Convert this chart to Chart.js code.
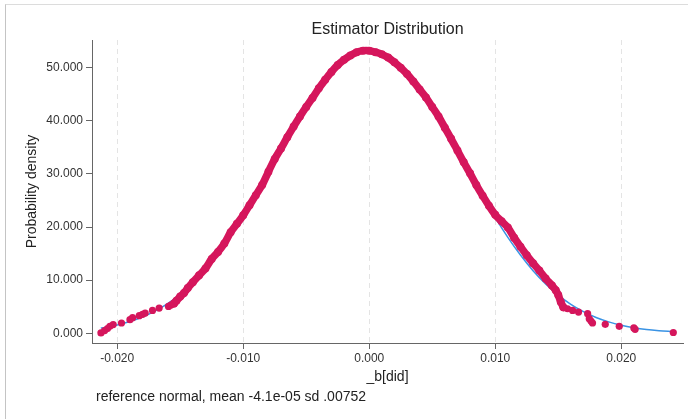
<!DOCTYPE html>
<html>
<head>
<meta charset="utf-8">
<script src="https://cdn.jsdelivr.net/npm/chart.js@4/dist/chart.umd.min.js"></script>
<style>
html, body { margin: 0; padding: 0; background: #ffffff; }
#wrap { position: relative; width: 688px; height: 419px; overflow: hidden; }
#frame { position: absolute; left: 5px; top: 4px; width: 683px; height: 415px; box-sizing: border-box;
         border-top: 1px solid #dcdcdc; border-left: 1px solid #c4c4c4; }
#c { position: absolute; left: 0; top: 0; }
</style>
</head>
<body>
<div id="wrap"><div id="frame"></div><canvas id="c" width="688" height="419"></canvas></div>
<script>
// ---- tick labels ----
const xTicks = [-0.02, -0.01, 0, 0.01, 0.02];
const yTicks = [0, 10, 20, 30, 40, 50];

// ---- reference normal curve (blue line) ----
const refX = [-0.0213, -0.0210, -0.0200, -0.0190, -0.0180, -0.0170, -0.0160, -0.0150, -0.0140, -0.0130,
              -0.0120, -0.0110, -0.0100, -0.0090, -0.0080, -0.0070, -0.0060, -0.0050, -0.0040, -0.0030,
              -0.0020, -0.0010, 0.0000, 0.0010, 0.0020, 0.0030, 0.0040, 0.0050, 0.0060, 0.0070,
              0.0080, 0.0090, 0.0100, 0.0110, 0.0120, 0.0130, 0.0140, 0.0150, 0.0160, 0.0170,
              0.0180, 0.0190, 0.0200, 0.0210, 0.0220, 0.0230, 0.0241];
const refY = [0.98, 1.09, 1.57, 2.21, 3.07, 4.17, 5.58, 7.34, 9.47, 12.02,
              14.99, 18.35, 22.08, 26.11, 30.30, 34.58, 38.76, 42.70, 46.19, 49.10,
              51.28, 52.62, 53.05, 52.54, 51.13, 48.88, 45.91, 42.38, 38.42, 34.22,
              29.95, 25.75, 21.75, 18.05, 14.72, 11.79, 9.28, 7.18, 5.45, 4.07,
              2.98, 2.15, 1.52, 1.06, 0.72, 0.49, 0.31];

// ---- estimated density: dense central band ----
const bandX = [-0.0155, -0.0153, -0.0150, -0.0147, -0.0144, -0.0140, -0.0135, -0.0130, -0.0125, -0.0120,
               -0.0115, -0.0110, -0.0105, -0.0100, -0.0095, -0.0090, -0.0085, -0.0080, -0.0075, -0.0070,
               -0.0065, -0.0060, -0.0055, -0.0050, -0.0045, -0.0040, -0.0035, -0.0030, -0.0025, -0.0020,
               -0.0015, -0.0010, -0.0005, 0.0000, 0.0005, 0.0010, 0.0015, 0.0020, 0.0025, 0.0030,
               0.0035, 0.0040, 0.0045, 0.0050, 0.0055, 0.0060, 0.0065, 0.0070, 0.0075, 0.0080,
               0.0085, 0.0090, 0.0095, 0.0100, 0.0105, 0.0110, 0.0115, 0.0120, 0.0125, 0.0130,
               0.0135, 0.0140, 0.0145, 0.0148, 0.0150, 0.0152, 0.0154];
const bandY = [5.6, 6.1, 6.9, 7.6, 8.5, 9.6, 10.9, 12.2, 14.0, 15.3,
               16.9, 19.0, 20.6, 22.2, 24.1, 26.0, 27.9, 30.4, 32.8, 34.8,
               36.9, 38.9, 40.8, 42.6, 44.3, 46.1, 47.7, 49.2, 50.5, 51.5,
               52.3, 52.9, 53.2, 53.2, 52.9, 52.5, 51.9, 51.0, 50.0, 48.8,
               47.4, 45.9, 44.4, 42.6, 40.8, 38.7, 36.6, 34.4, 32.2, 30.1,
               27.9, 25.9, 24.0, 22.3, 21.1, 19.9, 18.0, 16.3, 14.7, 13.2,
               11.8, 10.3, 9.0, 8.1, 7.2, 5.9, 4.9];

// ---- estimated density: sparse tail points ----
const leftTailX = [-0.02129, -0.02100, -0.02077, -0.02058, -0.02032, -0.01966, -0.01899, -0.01878, -0.01825,
                   -0.01799, -0.01778, -0.01720, -0.01667, -0.01593, -0.01574, -0.01548];
const leftTailY = [0.06, 0.5, 0.88, 1.31, 1.63, 1.93, 2.56, 2.93, 3.31,
                   3.56, 3.81, 4.31, 4.74, 5.06, 5.31, 5.56];
const rightTailX = [0.01545, 0.01574, 0.01614, 0.01661, 0.01733, 0.01746, 0.01760, 0.01772,
                    0.01873, 0.01984, 0.02100, 0.02110, 0.02413];
const rightTailY = [4.8, 4.62, 4.3, 4.0, 3.69, 2.75, 2.3, 1.93,
                    1.69, 1.31, 1.0, 0.75, 0.15];

const titleText = 'Estimator Distribution';
const xTitle = '_b[did]';
const yTitle = 'Probability density';
const noteText = 'reference normal, mean -4.1e-05 sd .00752';

const FONT = '"Liberation Sans", Arial, Helvetica, sans-serif';
const RED = '#d5165c';
const BLUE = '#3a93e4';

const toPts = (xs, ys) => xs.map((x, i) => ({ x: x, y: ys[i] }));

const notePlugin = {
  id: 'note',
  afterDraw(chart) {
    const { ctx, chartArea } = chart;
    ctx.save();
    ctx.font = '14px ' + FONT;
    ctx.fillStyle = '#222';
    ctx.textAlign = 'left';
    ctx.textBaseline = 'middle';
    ctx.fillText(noteText, chartArea.left + 4, 397);
    ctx.restore();
  }
};

new Chart(document.getElementById('c'), {
  type: 'scatter',
  data: {
    datasets: [
      {
        label: 'band',
        data: toPts(bandX, bandY),
        showLine: true,
        borderColor: RED,
        backgroundColor: RED,
        borderWidth: 7.5,
        borderCapStyle: 'round',
        borderJoinStyle: 'round',
        tension: 0.3,
        pointRadius: 4,
        pointBorderWidth: 0,
        order: 0
      },
      {
        label: 'left tail',
        data: toPts(leftTailX, leftTailY),
        showLine: false,
        backgroundColor: RED,
        borderColor: RED,
        pointRadius: 3.6,
        pointBorderWidth: 0,
        order: 0
      },
      {
        label: 'right tail',
        data: toPts(rightTailX, rightTailY),
        showLine: false,
        backgroundColor: RED,
        borderColor: RED,
        pointRadius: 3.6,
        pointBorderWidth: 0,
        order: 0
      },
      {
        label: 'reference normal',
        data: toPts(refX, refY),
        showLine: true,
        borderColor: BLUE,
        backgroundColor: BLUE,
        borderWidth: 1.5,
        cubicInterpolationMode: 'monotone',
        pointRadius: 0,
        order: 1
      }
    ]
  },
  options: {
    responsive: false,
    animation: false,
    devicePixelRatio: 1,
    layout: { padding: { left: 0, right: 5, top: 0, bottom: 0 } },
    plugins: {
      legend: { display: false },
      tooltip: { enabled: false },
      title: {
        display: true,
        text: titleText,
        fullSize: false,
        color: '#222',
        font: { family: FONT, size: 16, weight: 'normal' },
        padding: { top: 20, bottom: 0.8 }
      }
    },
    scales: {
      x: {
        type: 'linear',
        min: -0.022,
        max: 0.0249,
        afterBuildTicks: (s) => { s.ticks = xTicks.map(v => ({ value: v })); },
        afterFit: (s) => { s.height = 76; },
        ticks: {
          color: '#333',
          font: { family: FONT, size: 12 },
          padding: 2,
          maxRotation: 0,
          callback: (v) => Number(v).toFixed(3)
        },
        grid: {
          display: true,
          drawOnChartArea: true,
          drawTicks: true,
          tickLength: 6,
          color: '#e4e4e4',
          lineWidth: 1,
          tickColor: '#666',
          tickWidth: 1,
          tickBorderDash: []
        },
        border: { display: true, color: '#666', width: 1, dash: [5, 4] },
        title: {
          display: true,
          text: xTitle,
          color: '#222',
          font: { family: FONT, size: 14 },
          padding: { top: 0, bottom: 33 }
        }
      },
      y: {
        type: 'linear',
        min: -1.83,
        max: 55.2,
        afterBuildTicks: (s) => { s.ticks = yTicks.map(v => ({ value: v })); },
        afterFit: (s) => { s.width = 92; },
        ticks: {
          color: '#333',
          font: { family: FONT, size: 12 },
          padding: 3,
          callback: (v) => Number(v).toFixed(3)
        },
        grid: {
          display: true,
          drawOnChartArea: false,
          drawTicks: true,
          tickLength: 6,
          tickColor: '#666',
          tickWidth: 1
        },
        border: { display: true, color: '#666', width: 1 },
        title: {
          display: true,
          text: yTitle,
          color: '#222',
          font: { family: FONT, size: 14 },
          padding: { top: 23.5, bottom: 0 }
        }
      }
    }
  },
  plugins: [notePlugin]
});
</script>
</body>
</html>
